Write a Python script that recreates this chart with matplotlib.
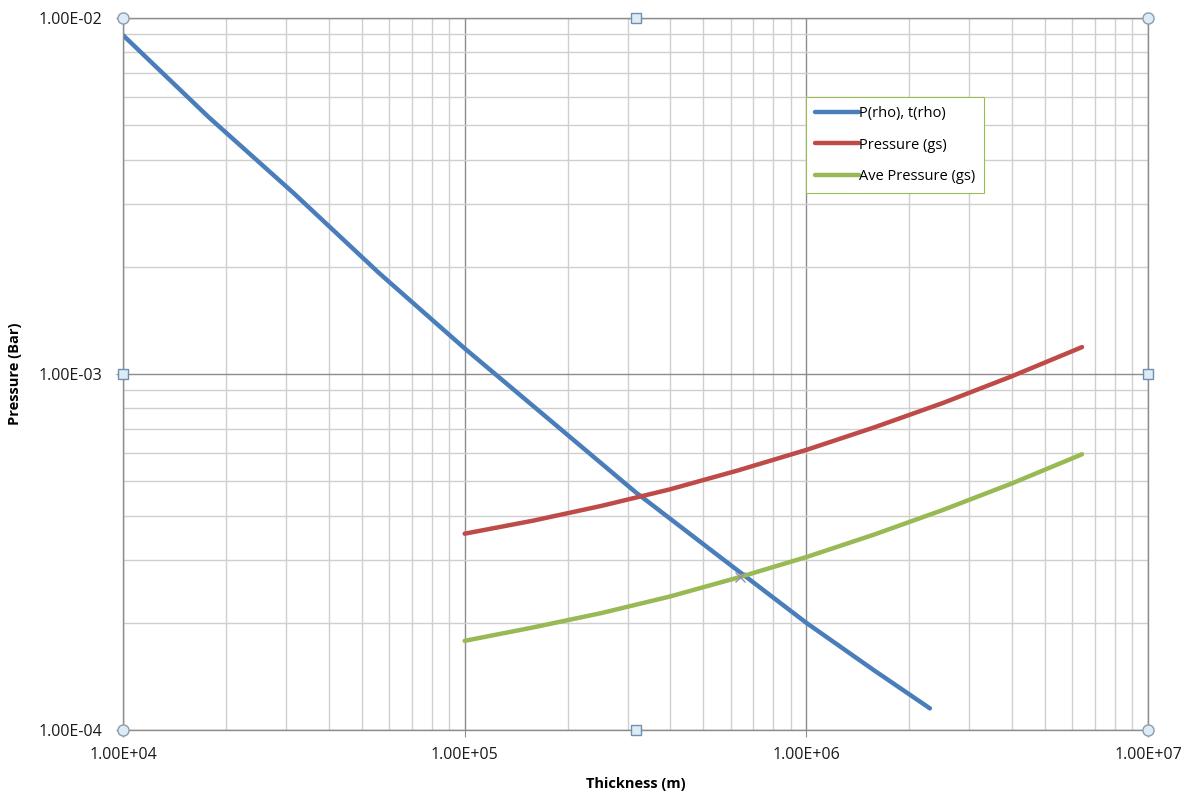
import matplotlib
matplotlib.use("Agg")
import matplotlib.pyplot as plt
from matplotlib.ticker import LogLocator, FuncFormatter, NullFormatter

# P(rho), t(rho)
thick_rho = [1e4, 1.78e4, 3.16e4, 5.62e4, 1e5, 1.78e5, 3.16e5, 5.62e5, 1e6, 1.58e6, 2.3e6]
press_rho = [8.95e-3, 5.27e-3, 3.22e-3, 1.92e-3, 1.18e-3, 7.41e-4, 4.66e-4, 3.05e-4,
             2.0e-4, 1.47e-4, 1.15e-4]

# gs model
thick_gs = [1e5, 1.58e5, 2.51e5, 3.98e5, 6.31e5, 1e6, 1.58e6, 2.51e6, 3.98e6, 6.41e6]
press_gs = [3.56e-4, 3.87e-4, 4.26e-4, 4.74e-4, 5.36e-4, 6.12e-4, 7.08e-4, 8.29e-4,
            9.84e-4, 1.19e-3]
ave_press_gs = [1.78e-4, 1.94e-4, 2.13e-4, 2.37e-4, 2.68e-4, 3.06e-4, 3.54e-4, 4.15e-4,
                4.92e-4, 5.95e-4]

cross_x = [6.4e5]
cross_y = [2.69e-4]

plt.rcParams['font.family'] = ['Open Sans', 'DejaVu Sans']

fig = plt.figure(figsize=(11.9, 7.92), dpi=100)
ax = fig.add_axes([123/1190, 1 - 730/792, 1025/1190, 712/792])
ax.set_xscale('log')
ax.set_yscale('log')
ax.set_xlim(1e4, 1e7)
ax.set_ylim(1e-4, 1e-2)

ax.xaxis.set_major_locator(LogLocator(base=10))
ax.yaxis.set_major_locator(LogLocator(base=10))
ax.xaxis.set_minor_locator(LogLocator(base=10, subs=range(2, 10)))
ax.yaxis.set_minor_locator(LogLocator(base=10, subs=range(2, 10)))
fmt = FuncFormatter(lambda v, p: '%.2E' % v)
ax.xaxis.set_major_formatter(fmt)
ax.yaxis.set_major_formatter(fmt)
ax.xaxis.set_minor_formatter(NullFormatter())
ax.yaxis.set_minor_formatter(NullFormatter())

ax.grid(which='major', color='#8c8c8c', linewidth=1.0)
ax.grid(which='minor', color='#cfcfcf', linewidth=1.0)
ax.set_axisbelow(True)
for s in ax.spines.values():
    s.set_color('#8c8c8c')
    s.set_linewidth(1.0)

ax.tick_params(which='major', length=5, color='#8c8c8c', labelsize=11.5,
               labelcolor='#1a1a1a')
ax.tick_params(which='minor', length=0)
ax.tick_params(axis='x', pad=7)
ax.tick_params(axis='y', pad=10)

ax.plot(thick_rho, press_rho, color='#4a7ebb', lw=3.2, solid_capstyle='round',
        label='P(rho), t(rho)')
ax.plot(thick_gs, press_gs, color='#be4b48', lw=3.2, solid_capstyle='round',
        label='Pressure (gs)')
ax.plot(thick_gs, ave_press_gs, color='#98b954', lw=3.2, solid_capstyle='round',
        label='Ave Pressure (gs)')
ax.plot(cross_x, cross_y, marker='x', color='#9a8fa8', ms=7, mew=1, ls='none')

ax.set_xlabel('Thickness (m)', fontsize=10.5, fontweight='bold', labelpad=10)
ax.set_ylabel('Pressure (Bar)', fontsize=10.5, fontweight='bold', labelpad=12)

leg = ax.legend(loc='upper left', bbox_to_anchor=((806 - 123) / 1025, (730 - 97) / 712),
                fontsize=10.5, handlelength=3.0, handletextpad=0.05,
                labelspacing=1.15, borderpad=0.6, borderaxespad=0,
                fancybox=False, framealpha=1)
leg.get_frame().set_edgecolor('#9bbb59')
leg.get_frame().set_linewidth(0.8)

# chart selection handles on the plot area frame
corners = [(0, 0), (1, 0), (0, 1), (1, 1)]
mids = [(0.5, 0), (0.5, 1), (0, 0.5), (1, 0.5)]
for hx, hy in corners:
    ax.plot(hx, hy, marker='o', ms=8, mfc='#dcebf5', mec='#8a9cab', mew=1,
            transform=ax.transAxes, clip_on=False, zorder=10)
for hx, hy in mids:
    ax.plot(hx, hy, marker='s', ms=6.5, mfc='#dcebf5', mec='#6f8fae', mew=1,
            transform=ax.transAxes, clip_on=False, zorder=10)

fig.savefig('out.png', dpi=100)
